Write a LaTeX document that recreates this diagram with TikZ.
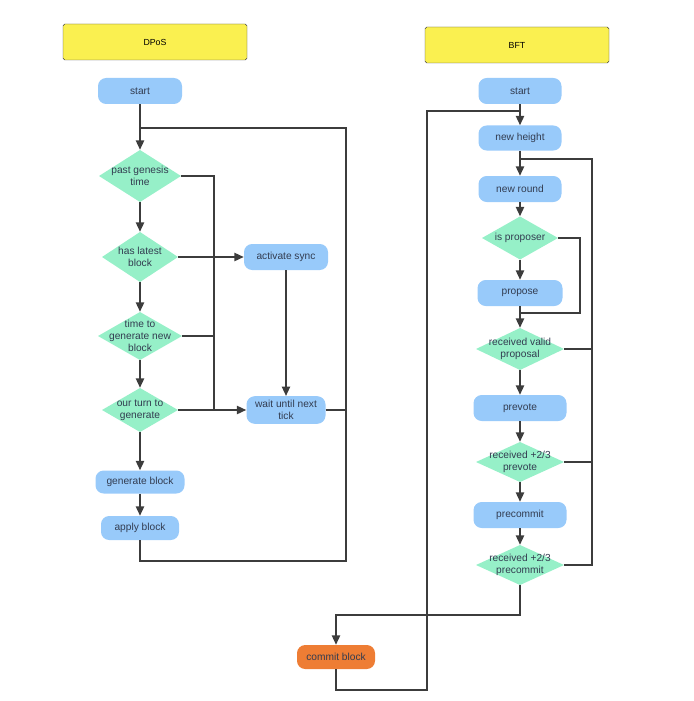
\documentclass[tikz,border=0pt]{standalone}
\usepackage{fontspec}
\setmainfont{Liberation Sans}
\usepackage{tikz}
\usetikzlibrary{positioning,arrows.meta,calc}
\definecolor{boxblue}{RGB}{152,202,250}
\definecolor{qmint}{RGB}{150,240,200}
\definecolor{titleyellow}{RGB}{250,240,80}
\definecolor{commitorange}{RGB}{238,125,52}
\definecolor{linegray}{RGB}{60,60,60}
\definecolor{textgray}{RGB}{50,60,80}
\tikzset{
    title/.style={
        rectangle,
        draw=linegray,
        fill=titleyellow,
        rounded corners=1.5pt,
        minimum width=55.2mm,
        minimum height=10.8mm,
        font=\fontsize{7.5}{9}\selectfont
    },
    stepbox/.style={
        rectangle,
        fill=boxblue,
        rounded corners=7pt,
        align=center,
        minimum height=7.8mm,
        text=textgray,
        font=\fontsize{8.7}{10.5}\selectfont
    },
    question/.style={
        rectangle,
        inner sep=0pt,
        align=center,
        text=textgray,
        font=\fontsize{8.7}{10.5}\selectfont,
        path picture={
            \fill[qmint] (path picture bounding box.west) -- (path picture bounding box.north)
                -- (path picture bounding box.east) -- (path picture bounding box.south) -- cycle;
        }
    },
    line/.style={draw=linegray, line width=1.5pt},
    arrow/.style={line, -{Triangle[length=8pt,width=7pt]}}
}

\begin{document}
\begin{tikzpicture}[x=0.3mm, y=-0.3mm]
        \useasboundingbox (0,0) rectangle (693,701);

        % DPoS
        \node[title] (dpos) at (155,42) {DPoS};
        \node[stepbox, minimum width=25.2mm] (dstart) at (140,91) {start};
        \node[question, minimum width=24.6mm, minimum height=15.6mm] (genesis) at (140,176) {past genesis\\time};
        \node[question, minimum width=22.8mm, minimum height=15mm] (latest) at (140,257) {has latest\\block};
        \node[stepbox, minimum width=25.2mm] (sync) at (286,257) {activate sync};
        \node[question, minimum width=25.2mm, minimum height=14.4mm] (tgen) at (140,336) {time to\\generate new\\block};
        \node[question, minimum width=22.8mm, minimum height=13.2mm] (turn) at (140,410) {our turn to\\generate};
        \node[stepbox, minimum width=23.7mm] (wait) at (286,410) {wait until next\\tick};
        \node[stepbox, minimum width=26.7mm, minimum height=6.9mm] (gen) at (140,482) {generate block};
        \node[stepbox, minimum width=23.4mm, minimum height=7.2mm] (apply) at (140,528) {apply block};

        \coordinate (dtop) at (346,128);
        \coordinate (dbot) at (346,561);
        \coordinate (dmid) at (214,410);

        \draw[arrow] (dstart) -- (genesis.north);
        \draw[arrow] (genesis.south) -- (latest.north);
        \draw[arrow] (latest.south) -- (tgen.north);
        \draw[arrow] (tgen.south) -- (turn.north);
        \draw[arrow] (turn.south) -- (gen);
        \draw[arrow] (gen) -- (apply);
        \draw[arrow] (latest.east) -- (sync);
        \draw[arrow] (sync) -- (wait);
        \draw[arrow] (turn.east) -- (wait);
        \draw[line] (genesis.east) -| (dmid);
        \draw[line] (tgen.east) -- (tgen.east -| dmid);
        \draw[line] (wait.east) -- (wait.east -| dtop);
        \draw[line] (apply.south) |- (dbot) -- (dtop) -- (dtop -| dstart);

        % BFT
        \node[title] (bft) at (517,45) {BFT};
        \node[stepbox, minimum width=24.9mm] (bstart) at (520,91) {start};
        \node[stepbox, minimum width=24.9mm, minimum height=7.5mm] (height) at (520,138) {new height};
        \node[stepbox, minimum width=24.9mm] (round) at (520,189) {new round};
        \node[question, minimum width=22.8mm, minimum height=12.9mm] (proposer) at (520,238) {is proposer};
        \node[stepbox, minimum width=25.5mm] (propose) at (520,293) {propose};
        \node[question, minimum width=26.4mm, minimum height=12.6mm] (validq) at (520,349) {received valid\\proposal};
        \node[stepbox, minimum width=27.9mm] (prevote) at (520,408) {prevote};
        \node[question, minimum width=26.4mm, minimum height=12mm] (prevoteq) at (520,462) {received +2/3\\prevote};
        \node[stepbox, minimum width=27.9mm] (precommit) at (520,515) {precommit};
        \node[question, minimum width=26.4mm, minimum height=12mm] (precommitq) at (520,565) {received +2/3\\precommit};
        \node[stepbox, fill=commitorange, minimum width=23.4mm, minimum height=7.2mm] (commit) at (336,657) {commit block};

        \coordinate (btop) at (427,111);
        \coordinate (bbot) at (427,690);
        \coordinate (rtop) at (592,159);
        \coordinate (pj) at (580,313);
        \coordinate (cj) at (336,615);

        \draw[arrow] (bstart) -- (height);
        \draw[arrow] (height) -- (round);
        \draw[arrow] (round) -- (proposer.north);
        \draw[arrow] (proposer.south) -- (propose);
        \draw[arrow] (propose) -- (validq.north);
        \draw[arrow] (validq.south) -- (prevote);
        \draw[arrow] (prevote) -- (prevoteq.north);
        \draw[arrow] (prevoteq.south) -- (precommit);
        \draw[arrow] (precommit) -- (precommitq.north);
        \draw[line] (proposer.east) -| (pj) -- (pj -| propose);
        \draw[line] (precommitq.east) -| (rtop) -- (rtop -| round);
        \foreach \n in {validq, prevoteq}
            \draw[line] (\n.east) -- (\n.east -| rtop);
        \draw[arrow] (precommitq.south) |- (cj) -- (commit);
        \draw[line] (commit.south) |- (bbot) -- (btop) -- (btop -| height);

    \end{tikzpicture}
\end{document}
